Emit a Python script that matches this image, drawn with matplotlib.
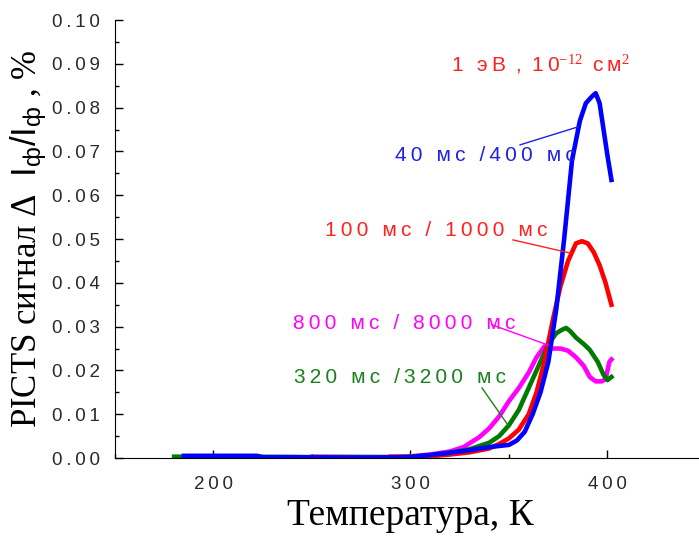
import numpy as np
import matplotlib.pyplot as plt
from matplotlib.ticker import MultipleLocator, FuncFormatter

# --- data ---
t_blue = [185, 200, 222, 225, 240, 260, 280, 300, 310, 320, 330, 340, 350, 354, 358, 362,
          366, 370, 374, 378, 382, 386, 389, 392, 394, 396, 398, 400, 402]
v_blue = [0.0005, 0.0005, 0.0005, 0.0002, 0.0002, 0.0001, 0.0001, 0.0002, 0.0007, 0.0012,
          0.0018, 0.0025, 0.0030, 0.0040, 0.006, 0.010, 0.015, 0.022, 0.034, 0.050, 0.068,
          0.077, 0.081, 0.0825, 0.0833, 0.081, 0.075, 0.069, 0.0635]

t_red = [290, 300, 310, 320, 330, 340, 345, 350, 355, 360, 364, 368, 372, 376, 380, 384,
         387, 390, 393, 396, 399, 402]
v_red = [0.0003, 0.0002, 0.0004, 0.0008, 0.0013, 0.0022, 0.0032, 0.0045, 0.0065, 0.010,
         0.015, 0.022, 0.031, 0.039, 0.045, 0.049, 0.0495, 0.049, 0.047, 0.044, 0.040, 0.035]

t_green = [180, 200, 250, 290, 300, 310, 320, 330, 340, 345, 350, 355, 360, 365, 370, 374,
           377, 379, 381, 384, 388, 391, 395, 398, 400, 402]
v_green = [0.0003, 0.0003, 0.0002, 0.0002, 0.0003, 0.0006, 0.0012, 0.002, 0.0035, 0.005,
           0.0075, 0.011, 0.016, 0.021, 0.026, 0.0285, 0.0293, 0.0297, 0.029, 0.0275, 0.026,
           0.0247, 0.022, 0.019, 0.0178, 0.0185]

t_mag = [250, 252, 290, 300, 310, 320, 327, 335, 340, 345, 350, 355, 360, 364, 368, 372,
         376, 380, 384, 388, 391, 394, 397, 399, 401, 402]
v_mag = [0.0003, 0.0003, 0.0002, 0.0004, 0.0008, 0.0015, 0.0025, 0.0048, 0.0068, 0.0095,
         0.013, 0.016, 0.0195, 0.023, 0.0255, 0.025, 0.025, 0.0245, 0.023, 0.021, 0.0185,
         0.0175, 0.0175, 0.018, 0.022, 0.0225]

plt.rcParams['mathtext.fontset'] = 'custom'
plt.rcParams['mathtext.rm'] = 'Liberation Serif'
plt.rcParams['mathtext.sf'] = 'Liberation Sans'
plt.rcParams['mathtext.it'] = 'Liberation Sans'

SANS = ['Liberation Sans', 'DejaVu Sans']


def spaced(s):
    # the original uses wide letter spacing
    return '\u2009'.join(s)


fig = plt.figure(figsize=(6.99, 5.43), dpi=100)
ax = fig.add_axes([0.1645, 0.1565, 0.8455, 0.8066])

ax.plot(t_mag, v_mag, color='#ff00ff', lw=3.3)
ax.plot(t_green, v_green, color='#007a00', lw=3.3)
ax.plot(t_red, v_red, color='#ff0000', lw=3.3)
ax.plot(t_blue, v_blue, color='#0000ff', lw=3.3)

ax.set_xlim(150, 450)
ax.set_ylim(0, 0.10)
ax.spines['top'].set_visible(False)
ax.spines['right'].set_visible(False)

ax.xaxis.set_major_locator(MultipleLocator(100))
ax.xaxis.set_minor_locator(MultipleLocator(50))
ax.yaxis.set_major_locator(MultipleLocator(0.01))
ax.yaxis.set_minor_locator(MultipleLocator(0.005))
ax.xaxis.set_major_formatter(FuncFormatter(lambda v, p: spaced(f"{v:.0f}")))
ax.yaxis.set_major_formatter(FuncFormatter(lambda v, p: spaced(f"{v:.2f}")))
ax.tick_params(which='both', direction='in', colors='black', labelcolor='#2a2a2a')
ax.tick_params(which='major', length=6, width=1)
ax.tick_params(which='minor', length=3, width=1)
ax.tick_params(axis='y', pad=11)
ax.tick_params(axis='x', pad=13)
for lab in ax.get_xticklabels() + ax.get_yticklabels():
    lab.set_family(SANS)
    lab.set_fontsize(13.5)

ax.set_xlabel('Температура, К', family='Liberation Serif', fontsize=27, labelpad=4)
ax.set_ylabel('PICTS сигнал Δ  $\\mathsf{I_ф/I_ф}$ , %', family='Liberation Serif',
              fontsize=25, labelpad=2)

# annotations
ax.text(366, 0.0900,
        '1\u2009 \u2009э\u2009В\u2009 ,\u2009 1\u20090$^{-12}$\u2009 с\u2009м$^2$',
        color='#ff2020', family=SANS, fontsize=15, ha='center', va='center')

labels = [
    (spaced('40 мс /400 мс'), '#2020e0', (338, 0.0690), (355.6, 0.0715), (385, 0.0756)),
    (spaced('100 мс / 1000 мс'), '#ff2020', (313, 0.0520), (352, 0.0498), (381, 0.0468)),
    (spaced('800 мс / 8000 мс'), '#ff00ff', (296.7, 0.0308), (341.4, 0.0304), (369.8, 0.0258)),
    (spaced('320 мс /3200 мс'), '#1a801a', (294.7, 0.0183), (336.3, 0.0160), (349.5, 0.0075)),
]
for txt, col, pos, p0, p1 in labels:
    ax.text(pos[0], pos[1], txt, color=col, family=SANS, fontsize=15,
            ha='center', va='center')
    ax.plot([p0[0], p1[0]], [p0[1], p1[1]], color=col, lw=1)

fig.savefig('out.png', dpi=100)
